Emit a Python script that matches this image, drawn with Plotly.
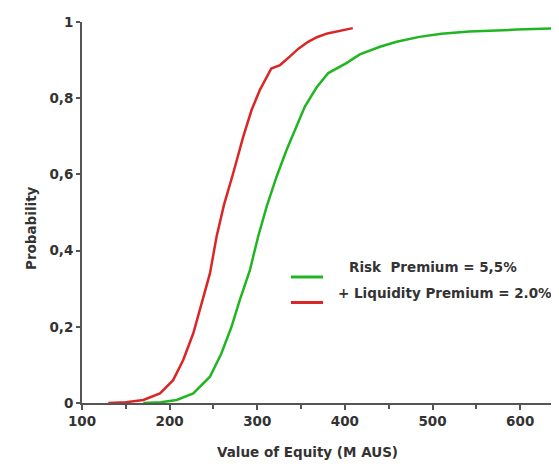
import plotly.graph_objects as go

# Data (Value of Equity, M AUS vs cumulative probability)
red_x = [130, 150, 170, 189, 204, 215.5, 227, 236.5, 246, 253.6, 262, 272.5, 284, 293.5, 303, 316, 326, 337, 347, 358, 368, 380, 393, 409]
red_y = [0.0, 0.002, 0.008, 0.025, 0.06, 0.113, 0.183, 0.262, 0.34, 0.437, 0.52, 0.603, 0.699, 0.769, 0.822, 0.878, 0.887, 0.909, 0.93, 0.948, 0.96, 0.970, 0.977, 0.984]

green_x = [170, 190, 208, 227, 246, 259, 270.6, 280, 291.6, 301, 310.6, 322, 333.4, 344.8, 354.3, 367.6, 381, 401.7, 417, 440, 459, 485, 510, 542, 570, 596, 638]
green_y = [0.0, 0.002, 0.008, 0.025, 0.069, 0.13, 0.2, 0.27, 0.349, 0.437, 0.515, 0.594, 0.664, 0.725, 0.778, 0.828, 0.866, 0.892, 0.915, 0.935, 0.948, 0.961, 0.969, 0.975, 0.978, 0.98, 0.983]

series_names = ["Risk  Premium = 5,5%", "+ Liquidity Premium = 2.0%"]
x_ticks = [100, 200, 300, 400, 500, 600]
y_ticks = [0, 0.2, 0.4, 0.6, 0.8, 1]

GREEN = "#22b522"
RED = "#da2626"
FONT = "DejaVu Sans"
TXT = "#333333"
AX = "#555555"

fig = go.Figure()
fig.add_trace(go.Scatter(x=green_x, y=green_y, mode="lines", name=series_names[0],
                         line=dict(color=GREEN, width=2.5), showlegend=False))
fig.add_trace(go.Scatter(x=red_x, y=red_y, mode="lines", name=series_names[1],
                         line=dict(color=RED, width=2.5), showlegend=False))

# page body has an 8px default margin: size the figure so the plot lands where the reference has it
fig.update_layout(
    width=551, height=464,
    margin=dict(l=74, r=2, t=14, b=69),
    paper_bgcolor="white", plot_bgcolor="white",
    separators=",.",
    font=dict(family=FONT, size=13, color=TXT, weight="bold"),
    xaxis=dict(range=[100, 642], tickvals=x_ticks, showgrid=False, zeroline=False,
               showline=True, linecolor=AX, linewidth=2,
               ticks="outside", ticklen=5, tickwidth=2, tickcolor=AX,
               minor=dict(dtick=50, tick0=100, ticks="outside", ticklen=4, tickwidth=1.5, tickcolor=AX),
               tickfont=dict(family=FONT, size=13.5, color=TXT, weight="bold")),
    yaxis=dict(range=[0, 1], tickvals=y_ticks, showgrid=False, zeroline=False,
               showline=True, linecolor=AX, linewidth=2,
               ticks="outside", ticklen=4, tickwidth=2, tickcolor=AX,
               tickfont=dict(family=FONT, size=13.5, color=TXT, weight="bold")),
)

def px_x(p):
    return (p - 82) / 475

def px_y(p):
    return (403 - p) / 381

# axis titles
fig.add_annotation(text="Value of Equity (M AUS)", xref="paper", yref="paper",
                   x=px_x(307), y=px_y(462), showarrow=False,
                   font=dict(family=FONT, size=13.5, color=TXT, weight="bold"))
fig.add_annotation(text="Probability", xref="paper", yref="paper", textangle=-90,
                   x=px_x(21), y=px_y(228), showarrow=False,
                   font=dict(family=FONT, size=13.5, color=TXT, weight="bold"))

# manual legend
for yy, col, name, tx in [(277, GREEN, series_names[0], 433), (302.5, RED, series_names[1], 445)]:
    fig.add_shape(type="line", xref="paper", yref="paper",
                  x0=px_x(291), x1=px_x(323), y0=px_y(yy), y1=px_y(yy),
                  line=dict(color=col, width=3))
    fig.add_annotation(text=name, xref="paper", yref="paper", x=px_x(tx), y=px_y(yy),
                       showarrow=False, xanchor="center",
                       font=dict(family=FONT, size=13.5, color=TXT, weight="bold"))

fig.write_html("out.html")
